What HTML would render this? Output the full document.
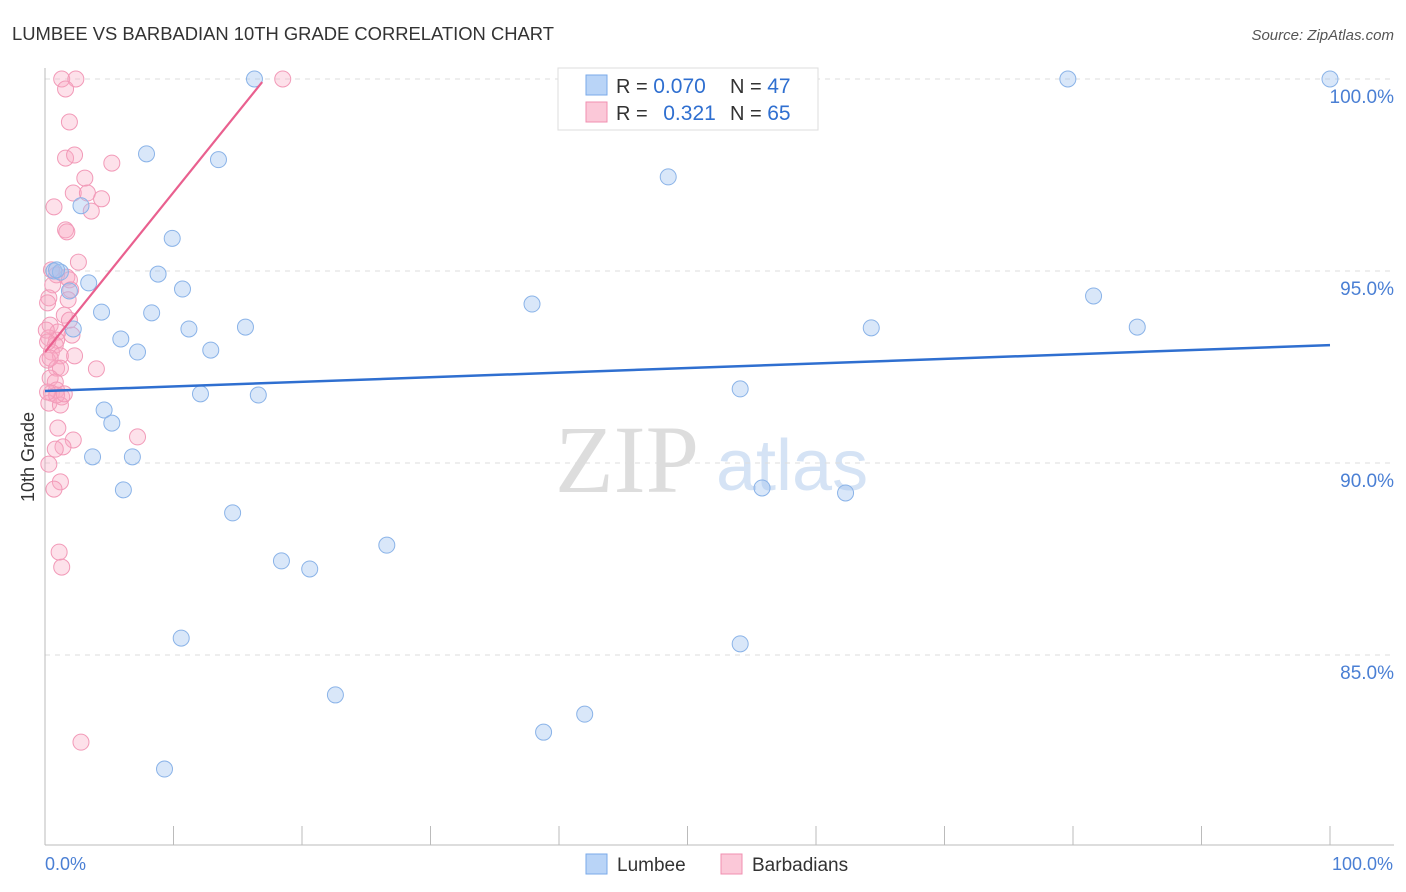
<!DOCTYPE html>
<html><head><meta charset="utf-8"><style>
body{margin:0;background:#fff;font-family:"Liberation Sans",sans-serif;}
#wrap{position:relative;width:1406px;height:892px;overflow:hidden;}
</style></head><body>
<div id="wrap">
<svg id="svg" width="1406" height="892" xmlns="http://www.w3.org/2000/svg">
<text x="12" y="40" font-size="18.4" fill="#333">LUMBEE VS BARBADIAN 10TH GRADE CORRELATION CHART</text>
<text x="1394" y="40" font-size="15" fill="#555" text-anchor="end" font-style="italic">Source: ZipAtlas.com</text>
<text x="34" y="457" font-size="18" fill="#333" text-anchor="middle" transform="rotate(-90 34 457)">10th Grade</text>
<text x="555" y="492" font-size="96" fill="#ddd" font-family="Liberation Serif,serif">ZIP</text>
<text x="716" y="490" font-size="72" fill="#d5e3f5">atlas</text>
<g id="grid"></g><g id="axes"></g><g id="pts"></g><g id="lines"></g>
<g>
<rect x="558" y="68" width="260" height="62" fill="#fff" stroke="#ddd"/>
<rect x="586" y="75" width="21" height="20" fill="#b9d4f7" stroke="#7aaae8"/>
<rect x="586" y="102" width="21" height="20" fill="#fbc8d8" stroke="#f08fb0"/>
<text x="616" y="93" font-size="20" fill="#333">R = <tspan fill="#2f6fd0" font-size="21">0.070</tspan></text>
<text x="730" y="93" font-size="20" fill="#333">N = <tspan fill="#2f6fd0" font-size="21">47</tspan></text>
<text x="616" y="120" font-size="20" fill="#333">R = <tspan fill="#2f6fd0" dx="10" font-size="21">0.321</tspan></text>
<text x="730" y="120" font-size="20" fill="#333">N = <tspan fill="#2f6fd0" font-size="21">65</tspan></text>
</g>
<g>
<rect x="586" y="854" width="21" height="20" fill="#b9d4f7" stroke="#7aaae8"/>
<text x="617" y="871" font-size="19" fill="#333">Lumbee</text>
<rect x="721" y="854" width="21" height="20" fill="#fbc8d8" stroke="#f08fb0"/>
<text x="752" y="871" font-size="19" fill="#333">Barbadians</text>
</g>
</svg>
</div>
<script>
const blueX=[16.3,79.6,100,7.9,13.5,48.5,2.8,9.9,0.7,1.2,8.8,3.4,1.9,10.7,37.9,81.6,4.4,8.3,11.2,15.6,64.3,85.0,2.2,5.9,7.2,12.9,54.1,12.1,16.6,4.6,5.2,3.7,6.8,6.1,55.8,62.3,14.6,26.6,18.4,20.6,10.6,54.1,22.6,42.0,38.8,9.3,0.9];
const blueY=[100,100,100,98.05,97.9,97.45,96.7,95.85,95.0,94.97,94.92,94.69,94.48,94.53,94.14,94.35,93.93,93.91,93.49,93.54,93.52,93.54,93.49,93.23,92.89,92.94,91.93,91.8,91.77,91.38,91.04,90.16,90.16,89.3,89.35,89.22,88.7,87.86,87.45,87.24,85.44,85.29,83.96,83.46,82.99,82.03,95.03];
const pinkX=[1.3,2.4,18.5,1.6,1.9,1.6,2.3,5.2,3.1,2.2,3.3,4.4,0.7,3.6,1.6,1.7,2.6,0.9,1.7,1.9,0.6,2.0,0.3,0.2,1.5,1.9,0.4,1.0,2.1,0.3,0.9,0.8,0.5,1.2,2.3,0.2,0.9,1.2,4.0,0.4,0.8,0.9,0.5,1.3,0.3,1.2,7.2,2.2,1.4,0.8,0.3,1.2,0.7,1.1,1.3,2.8,0.5,1.8,0.1,0.9,0.4,1.5,0.2,1.0,0.2];
const pinkY=[100,100,100,99.74,98.88,97.94,98.02,97.81,97.42,97.03,97.03,96.88,96.67,96.56,96.07,96.02,95.23,94.9,94.84,94.77,94.64,94.51,94.3,94.17,93.85,93.72,93.59,93.41,93.33,93.26,93.2,93.07,92.89,92.79,92.79,92.68,92.47,92.47,92.45,92.21,92.11,91.9,91.82,91.72,91.56,91.51,90.68,90.6,90.42,90.36,89.97,89.51,89.32,87.68,87.29,82.73,95.03,94.25,93.46,91.77,92.73,91.8,91.85,90.91,93.15];
const blueTrend=[0,91.875,100,93.07];
const pinkTrend=[0,92.89,16.9,99.92];
const yTicks=[100,95,90,85];
const yTickLabels=["100.0%","95.0%","90.0%","85.0%"];
const xTickLabels=["0.0%","100.0%"];

const NS="http://www.w3.org/2000/svg";
const sx=v=>45+v*12.85;
const sy=v=>79+(100-v)*38.4;
function mk(tag,attrs,parent){const e=document.createElementNS(NS,tag);for(const k in attrs)e.setAttribute(k,attrs[k]);document.getElementById(parent).appendChild(e);return e;}
yTicks.forEach((t,i)=>{
  const l=mk('line',{x1:45,x2:1394,y1:sy(t),y2:sy(t),stroke:'#ddd','stroke-dasharray':'5,5'},'grid');
  
  
  const tx=mk('text',{x:1394,y:sy(t)+24,'font-size':19,fill:'#4a7fd4','text-anchor':'end'},'grid');
  tx.textContent=yTickLabels[i];
  
  
});
const ax=mk('line',{x1:45,x2:1394,y1:845,y2:845,stroke:'#bbb'},'axes');


const ay=mk('line',{x1:45,x2:45,y1:68,y2:845,stroke:'#bbb'},'axes');


for(let k=0;k<=10;k++){
  const t=mk('line',{x1:sx(k*10),x2:sx(k*10),y1:826,y2:845,stroke:'#bbb'},'axes');
  
  
}
[[0,'start',45],[1,'end',1393]].forEach(([i,a,x])=>{
  const t=mk('text',{x:x,y:870,'font-size':18,fill:'#4a7fd4','text-anchor':a},'axes');
  t.textContent=xTickLabels[i];
  
  
});
pinkX.forEach((v,i)=>{
  const c=mk('circle',{cx:sx(v),cy:sy(pinkY[i]),r:8,fill:'rgba(248,170,195,0.35)',stroke:'#f29ab8','stroke-width':1},'pts');
  
  
});
blueX.forEach((v,i)=>{
  const c=mk('circle',{cx:sx(v),cy:sy(blueY[i]),r:8,fill:'rgba(160,195,240,0.4)',stroke:'#8ab3e8','stroke-width':1},'pts');
  
  
});
const bl=mk('line',{x1:sx(blueTrend[0]),y1:sy(blueTrend[1]),x2:sx(blueTrend[2]),y2:sy(blueTrend[3]),stroke:'#2f6fd0','stroke-width':2.5},'lines');


const pl=mk('line',{x1:sx(pinkTrend[0]),y1:sy(pinkTrend[1]),x2:sx(pinkTrend[2]),y2:sy(pinkTrend[3]),stroke:'#e9608f','stroke-width':2.2},'lines');


</script>
</body></html>
